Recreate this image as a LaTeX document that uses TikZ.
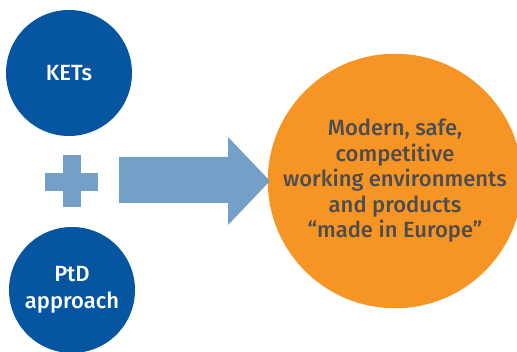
\documentclass[tikz,border=0pt]{standalone}
\usepackage{fontspec}
\setmainfont{Fira Sans}[BoldFont={Fira Sans Medium}]
\usepackage{tikz}

\definecolor{ketblue}{RGB}{6,85,161}
\definecolor{arrowblue}{RGB}{116,160,200}
\definecolor{resorange}{RGB}{246,148,36}
\definecolor{textgray}{RGB}{77,77,79}

\tikzset{
    bluedisc/.style={circle, fill=ketblue, text=white, minimum size=126pt, inner sep=0pt, align=center, font=\bfseries\fontsize{22}{27}\selectfont},
    resdisc/.style={circle, fill=resorange, text=textgray, minimum size=244pt, inner sep=0pt, align=center, font=\bfseries\fontsize{22}{25.5}\selectfont}
}

\begin{document}
\begin{tikzpicture}[x=1pt, y=-1pt]
        \useasboundingbox (0,0) rectangle (517,352);
        \node[bluedisc] (kets) at (69,73) {KETs};
        \node[bluedisc] (ptd) at (72,290) {PtD\\approach};
        \node[resdisc] (result) at (395,181) {Modern, safe,\\competitive\\working environments\\and products\\``made in Europe''};
        % plus sign
        \fill[arrowblue] (63,155) rectangle (81,207);
        \fill[arrowblue] (45,173) rectangle (98,191);
        % big arrow
        \fill[arrowblue] (119,157) -- (228,157) -- (228,137) -- (270,181) -- (228,225) -- (228,203) -- (119,203) -- cycle;
    \end{tikzpicture}
\end{document}
